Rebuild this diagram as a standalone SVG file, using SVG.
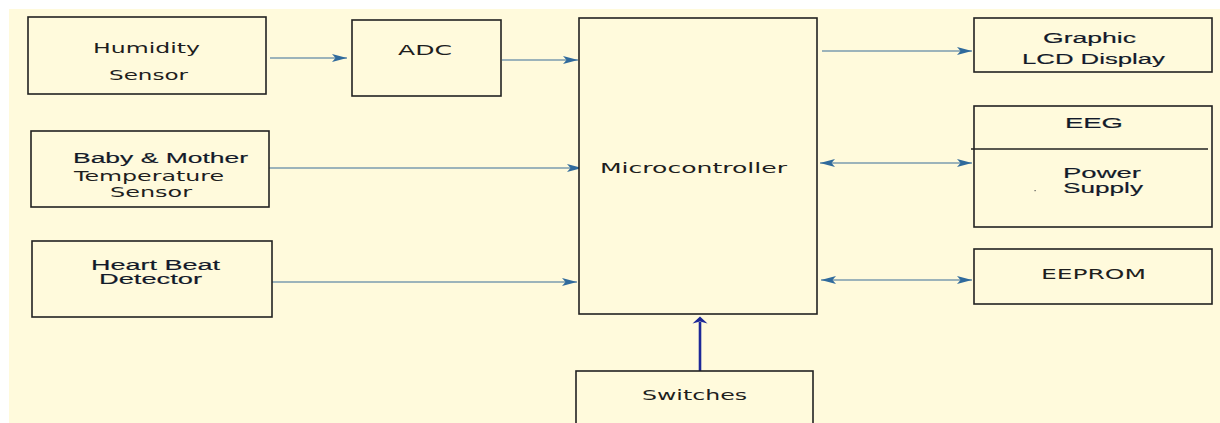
<svg xmlns="http://www.w3.org/2000/svg" width="1220" height="423" viewBox="0 0 1220 423">
  <style>
    .box { fill: #FFFADC; stroke: #222222; stroke-width: 1.6; }
    .t1 { font-family: "DejaVu Sans", Verdana, sans-serif; font-size: 13.5px; fill: #1e1e1e; }
    .t2 { font-family: "Liberation Sans", Arial, sans-serif; font-size: 14px; fill: #131a2a; stroke: #131a2a; stroke-width: 0.15; }
    .conn { stroke: #3a6c98; stroke-width: 1.1; fill: none; }
    .thick { stroke: #1c2898; stroke-width: 2.6; fill: none; }
  </style>
  <defs>
    <marker id="arr" markerUnits="userSpaceOnUse" markerWidth="15" markerHeight="9" refX="15" refY="4.5" orient="auto-start-reverse" viewBox="0 0 15 9">
      <path d="M0,0.5 L15,4.5 L0,8.5 L3.5,4.5 Z" fill="#2f6a9c"/>
    </marker>
  </defs>
  <rect x="0" y="0" width="1220" height="423" fill="#FFFFFF"/>
  <rect x="9" y="9" width="1211" height="414" fill="#FFFADC"/>

  <g id="connectors">
    <line class="conn" x1="270" y1="58" x2="347" y2="58" marker-end="url(#arr)"/>
    <line class="conn" x1="502" y1="60" x2="578" y2="60" marker-end="url(#arr)"/>
    <line class="conn" x1="265" y1="168" x2="582" y2="168" marker-end="url(#arr)"/>
    <line class="conn" x1="262" y1="282" x2="577" y2="282" marker-end="url(#arr)"/>
    <line class="conn" x1="822" y1="51" x2="972" y2="51" marker-end="url(#arr)"/>
    <line class="conn" x1="820" y1="163" x2="972" y2="163" marker-start="url(#arr)" marker-end="url(#arr)"/>
    <line class="conn" x1="821" y1="280" x2="972" y2="280" marker-start="url(#arr)" marker-end="url(#arr)"/>
    <line class="thick" x1="700" y1="371" x2="700" y2="322"/>
    <path d="M692.5,323.5 L700,316.5 L707.5,323.5 L700,321.5 Z" fill="#1c2898"/>
  </g>

  <g id="humidity">
    <rect class="box" x="28" y="17" width="238" height="77"/>
    <text class="t1" x="93" y="53" textLength="107" lengthAdjust="spacingAndGlyphs">Humidity</text>
    <text class="t1" x="109" y="80" textLength="79" lengthAdjust="spacingAndGlyphs">Sensor</text>
  </g>

  <g id="adc">
    <rect class="box" x="352" y="20" width="149" height="76"/>
    <text class="t1" x="398" y="55" textLength="54" lengthAdjust="spacingAndGlyphs">ADC</text>
  </g>

  <g id="temperature">
    <rect class="box" x="31" y="131" width="238" height="76"/>
    <text class="t2" x="73" y="163" textLength="175" lengthAdjust="spacingAndGlyphs">Baby &amp; Mother</text>
    <text class="t1" x="74" y="181" textLength="150" lengthAdjust="spacingAndGlyphs">Temperature</text>
    <text class="t1" x="110" y="197" textLength="82" lengthAdjust="spacingAndGlyphs">Sensor</text>
  </g>

  <g id="heartbeat">
    <rect class="box" x="32" y="241" width="240" height="76"/>
    <text class="t2" x="91" y="270" textLength="129" lengthAdjust="spacingAndGlyphs">Heart Beat</text>
    <text class="t2" x="99" y="284" textLength="103" lengthAdjust="spacingAndGlyphs">Detector</text>
  </g>

  <g id="microcontroller">
    <rect class="box" x="579" y="18" width="238" height="296"/>
    <text class="t1" x="600" y="173" textLength="187" lengthAdjust="spacingAndGlyphs">Microcontroller</text>
  </g>

  <g id="switches">
    <rect class="box" x="576" y="371" width="237" height="60"/>
    <text class="t1" x="642" y="400" textLength="105" lengthAdjust="spacingAndGlyphs">Switches</text>
  </g>

  <g id="lcd">
    <rect class="box" x="974" y="18" width="238" height="54"/>
    <text class="t2" x="1043" y="43" textLength="93" lengthAdjust="spacingAndGlyphs">Graphic</text>
    <text class="t2" x="1022" y="64" textLength="143" lengthAdjust="spacingAndGlyphs">LCD Display</text>
  </g>

  <g id="eeg-power">
    <rect class="box" x="974" y="106" width="238" height="121"/>
    <line x1="971" y1="149" x2="1208" y2="149" stroke="#222222" stroke-width="1.5"/>
    <text class="t2" x="1065" y="128" textLength="58" lengthAdjust="spacingAndGlyphs">EEG</text>
    <text class="t2" x="1063" y="178" textLength="78" lengthAdjust="spacingAndGlyphs">Power</text>
    <text class="t2" x="1063" y="193" textLength="80" lengthAdjust="spacingAndGlyphs">Supply</text>
    <rect x="1034.5" y="190" width="1.2" height="1.2" fill="#555555"/>
  </g>

  <g id="eeprom">
    <rect class="box" x="974" y="249" width="238" height="55"/>
    <text class="t1" x="1041" y="279" textLength="105" lengthAdjust="spacingAndGlyphs">EEPROM</text>
  </g>
</svg>
